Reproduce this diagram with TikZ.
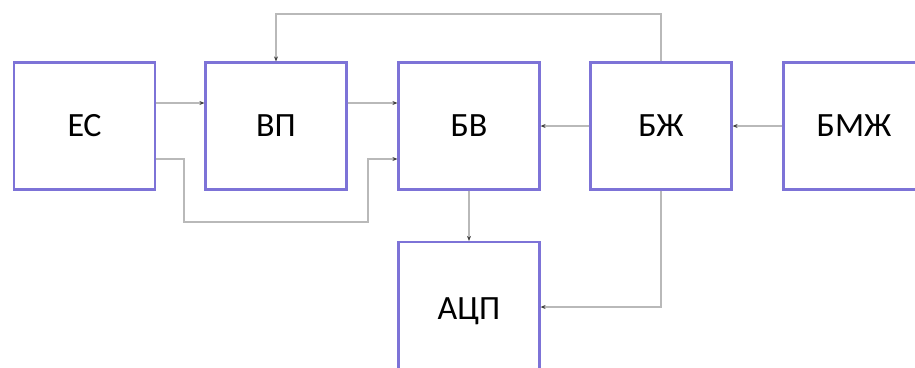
\documentclass[tikz,border=0pt]{standalone}
\usepackage{fontspec}
\setmainfont{Carlito}
\usetikzlibrary{arrows.meta}
\definecolor{boxc}{RGB}{125,115,215}
\definecolor{linec}{RGB}{185,185,185}
\begin{document}
\begin{tikzpicture}[x=1bp,y=-1bp,
  blk/.style={draw=boxc, line width=2.2bp, minimum width=141bp, minimum height=127bp, inner sep=0pt, font=\fontsize{34bp}{40bp}\selectfont},
  con/.style={draw=linec, line width=1.1bp, -{Stealth[length=5bp,width=4bp,color=black!75]}}]
\useasboundingbox (0,0) rectangle (915,367);
\clip (0,0) rectangle (915,367);
\fill[white] (0,0) rectangle (915,367);
\node[blk] (es) at (84.5,126) {ЕС};
\node[blk] (vp) at (276,126) {ВП};
\node[blk] (bv) at (469,126) {БВ};
\node[blk] (bzh) at (661,126) {БЖ};
\node[blk] (bmzh) at (854,126) {БМЖ};
\node[blk, minimum height=138bp] (adc) at (469,311) {АЦП};
\draw[con] (es.east |- 0,103) -- (vp.west |- 0,103);
\draw[con] (vp.east |- 0,103) -- (bv.west |- 0,103);
\draw[con] (es.east |- 0,159) -| (184,222) -| (368,159) -- (bv.west |- 0,159);
\draw[con] (bzh.west) -- (bv.east);
\draw[con] (bmzh.west) -- (bzh.east);
\draw[con] (bzh.north) -- (661,14) -| (vp.north);
\draw[con] (bv.south) -- (adc.north);
\draw[con] (bzh.south) |- (adc.east |- 0,307);
\end{tikzpicture}
\end{document}
